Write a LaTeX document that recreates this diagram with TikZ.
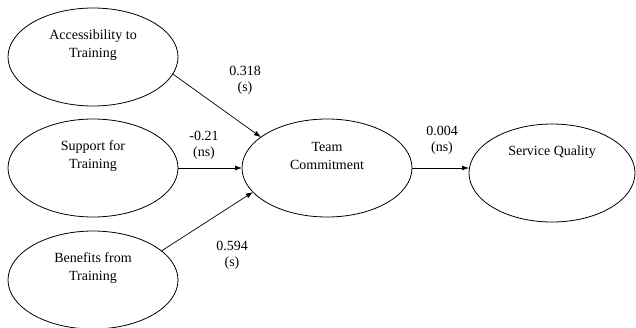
\documentclass[tikz,border=0pt]{standalone}
\usepackage{fontspec}
\setmainfont{Liberation Serif}
\usetikzlibrary{shapes.geometric, positioning, arrows.meta}

\begin{document}
\begin{tikzpicture}[x=1pt,y=-1pt,font=\fontsize{14}{18}\selectfont,
	oval/.style={ellipse,draw,line width=0.8pt,minimum width=170pt,minimum height=98pt,inner sep=0pt,outer sep=0pt},
	txt/.style={align=center,inner sep=0pt},
	coef/.style={align=center,inner sep=0pt,font=\fontsize{14}{16}\selectfont},
	link/.style={-{Latex[length=7pt,width=5pt]},line width=0.7pt}]
	\useasboundingbox (0,0) rectangle (636,327);
	% exogenous constructs
	\foreach \N/\Y/\T in {acc/57/{Accessibility to\\Training},
		sup/168/{Support for\\Training}, ben/280/{Benefits from\\Training}}
	{\node[oval] (\N) at (93,\Y) {};
		\node[txt] (\N-t) at ([yshift=12pt]\N.center) {\T};}
	% mediator and outcome
	\node[oval] (team) at (327,168) {};
	\node[txt] (team-t) at ([yshift=12pt]team.center) {Team\\Commitment};
	\node[oval,minimum width=166pt] (serv) at (552,173) {};
	\node[txt] (serv-t) at ([yshift=21pt]serv.center) {Service Quality};
	% paths
	\draw[link] (acc.-12) -- (team.155);
	\draw[link] (sup.east) -- (team.west);
	\draw[link] (ben.23) -- (team.198);
	\draw[link] (team.east) -- (serv.west |- team.east);
	% coefficients
	\node[coef] (c1) at (245,80) {0.318\\(s)};
	\node[coef] (c2) at (204,145) {-0.21\\(ns)};
	\node[coef] (c3) at (232,255) {0.594\\(s)};
	\node[coef] (c4) at (442,140) {0.004\\(ns)};
\end{tikzpicture}
\end{document}
